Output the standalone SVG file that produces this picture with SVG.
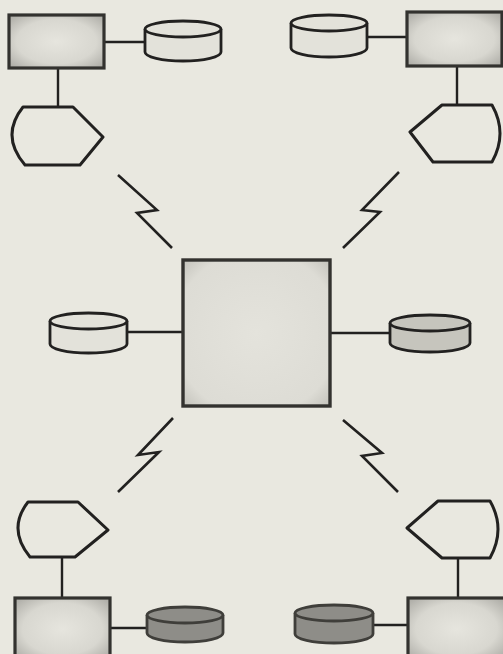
<svg xmlns="http://www.w3.org/2000/svg" width="503" height="654" viewBox="0 0 503 654">
<style>
.ln{stroke:#222120;stroke-width:2.4;fill:none;stroke-linecap:round;stroke-linejoin:round}
.bolt{stroke:#222120;stroke-width:2.6;fill:none;stroke-linejoin:miter}
.hex{stroke:#222120;stroke-width:3;fill:#e9e8e0;stroke-linejoin:round}
.box{stroke:#33322f;stroke-width:3.2;fill:url(#boxg)}
.disk{stroke:#222120;stroke-width:2.8;fill:#e3e2da}
.diskm{stroke:#222120;stroke-width:2.8;fill:#c6c5bd}
.diskd{stroke:#3f3e3a;stroke-width:2.8;fill:#8e8d88}
</style>
<defs>
<radialGradient id="boxg" cx="0.5" cy="0.5" r="0.7">
<stop offset="0" stop-color="#e6e5de"/>
<stop offset="0.6" stop-color="#d8d7d0"/>
<stop offset="1" stop-color="#a9a8a2"/>
</radialGradient>
<radialGradient id="boxc" cx="0.5" cy="0.5" r="0.7">
<stop offset="0" stop-color="#e4e3dc"/>
<stop offset="0.8" stop-color="#dddcd5"/>
<stop offset="1" stop-color="#c4c3bc"/>
</radialGradient>
</defs>
<rect width="503" height="654" fill="#e9e8e0"/>
<g id="connectors">
<line class="ln" x1="104" y1="42" x2="145" y2="42"/>
<line class="ln" x1="58" y1="68" x2="58" y2="107"/>
<line class="ln" x1="367" y1="37" x2="407" y2="37"/>
<line class="ln" x1="457" y1="66" x2="457" y2="105"/>
<line class="ln" x1="127" y1="332" x2="183" y2="332"/>
<line class="ln" x1="330" y1="333" x2="390" y2="333"/>
<line class="ln" x1="62" y1="557" x2="62" y2="598"/>
<line class="ln" x1="110" y1="628" x2="147" y2="628"/>
<line class="ln" x1="458" y1="558" x2="458" y2="598"/>
<line class="ln" x1="373" y1="625" x2="408" y2="625"/>
<polyline class="bolt" points="118,175 157,210 137,213 172,248"/>
<polyline class="bolt" points="399,172 362,210 380,212 343,248"/>
<polyline class="bolt" points="173,418 138,455 159,452 118,492"/>
<polyline class="bolt" points="343,420 382,453 362,456 398,492"/>
</g>
<g id="tl-box"><rect class="box" x="9" y="15" width="95" height="53"/></g>
<g id="tl-disk">
<path class="disk" d="M145,29 L145,52 A38,9 0 0 0 221,52 L221,29"/>
<ellipse class="disk" cx="183" cy="29" rx="38" ry="8"/>
</g>
<g id="tl-display"><path class="hex" d="M23,107 L73,107 L103,137 L80,165 L25,165 Q0,136 23,107 Z"/></g>
<g id="tr-box"><rect class="box" x="407" y="12" width="95" height="54"/></g>
<g id="tr-disk">
<path class="disk" d="M291,23 L291,48 A38,9 0 0 0 367,48 L367,23"/>
<ellipse class="disk" cx="329" cy="23" rx="38" ry="8"/>
</g>
<g id="tr-display"><path class="hex" d="M442,105 L492,105 Q508,133.5 492,162 L433,162 L410,132 Z"/></g>
<g id="center"><rect x="183" y="260" width="147" height="146" fill="url(#boxc)" stroke="#33322f" stroke-width="3.4"/></g>
<g id="ml-disk">
<path class="disk" d="M50,321 L50,344 A38.5,9 0 0 0 127,344 L127,321"/>
<ellipse class="disk" cx="88.5" cy="321" rx="38.5" ry="8"/>
</g>
<g id="mr-disk">
<path class="diskm" d="M390,323 L390,343 A40,9 0 0 0 470,343 L470,323"/>
<ellipse class="diskm" cx="430" cy="323" rx="40" ry="8"/>
</g>
<g id="bl-display"><path class="hex" d="M28,502 L78,502 L108,530 L75,557 L30,557 Q7,529 28,502 Z"/></g>
<g id="bl-box"><rect class="box" x="15" y="598" width="95" height="62"/></g>
<g id="bl-disk">
<path class="diskd" d="M147,615 L147,633 A38,9 0 0 0 223,633 L223,615"/>
<ellipse class="diskd" cx="185" cy="615" rx="38" ry="8"/>
</g>
<g id="br-display"><path class="hex" d="M438,501 L490,501 Q506,529 490,558 L442,558 L407,528 Z"/></g>
<g id="br-box"><rect class="box" x="408" y="598" width="97" height="62"/></g>
<g id="br-disk">
<path class="diskd" d="M295,613 L295,634 A39,9 0 0 0 373,634 L373,613"/>
<ellipse class="diskd" cx="334" cy="613" rx="39" ry="8"/>
</g>
</svg>
